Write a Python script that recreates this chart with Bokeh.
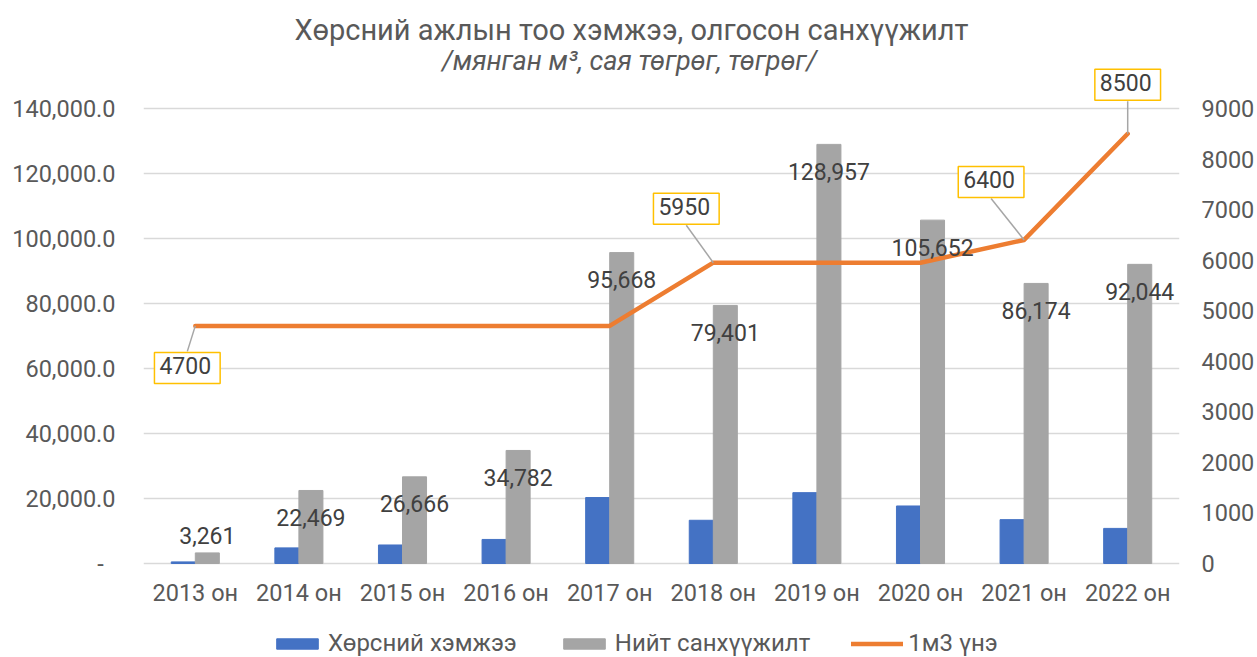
import numpy as np
from bokeh.plotting import figure
from bokeh.models import (Range1d, LinearAxis, FixedTicker, CustomJSTickFormatter, Label,
                          Legend, LegendItem, ColumnDataSource)
from bokeh.transform import dodge
from bokeh.embed import file_html
from bokeh.resources import INLINE

# ---------------- data ----------------
years = ["2013 он", "2014 он", "2015 он", "2016 он", "2017 он",
         "2018 он", "2019 он", "2020 он", "2021 он", "2022 он"]
volume = [500, 4800, 5700, 7400, 20300, 13300, 21800, 17700, 13500, 10800]
funding = [3261, 22469, 26666, 34782, 95668, 79401, 128957, 105652, 86174, 92044]
price = [4700, 4700, 4700, 4700, 4700, 5950, 5950, 5950, 6400, 8500]
left_ticks = [0, 20000, 40000, 60000, 80000, 100000, 120000, 140000]
right_ticks = [0, 1000, 2000, 3000, 4000, 5000, 6000, 7000, 8000, 9000]
series_names = ["Хөрсний хэмжээ", "Нийт санхүүжилт", "1м3 үнэ"]
title_text = "Хөрсний ажлын тоо хэмжээ, олгосон санхүүжилт"
subtitle_text = "/мянган м³, сая төгрөг, төгрөг/"

# ---------------- layout / style ----------------
W, H = 1257, 657              # canvas
LEFT, FW = 143, 1036          # plot area left edge / width (px)
Y_ZERO, Y_TOP = 563, 108      # pixel rows of value 0 and of top tick
BLUE, GRAY, ORANGE = "#4472C4", "#A5A5A5", "#ED7D31"
TXT, LBL, GRID = "#595959", "#404040", "#D9D9D9"
FONT = "Roboto"
BAR_W = 0.232
callouts = {0: (-8, -42), 5: (-27, 54), 8: (-33, 58), 9: (0, 49)}  # px, +up
BOX_HALF_H = 16.5
label_off = [-17 if v < 10000 else 27 for v in funding]            # px, +down

lmax, rmax = left_ticks[-1], right_ticks[-1]
span_px = Y_ZERO - Y_TOP
lupp, rupp = lmax / span_px, rmax / span_px
y_left = Range1d(-(H - Y_ZERO) * lupp, lmax + Y_TOP * lupp)
y_right = Range1d(-(H - Y_ZERO) * rupp, rmax + Y_TOP * rupp)

xs = np.arange(len(years)) + 0.5
src = ColumnDataSource(dict(
    x=xs, volume=volume, funding=funding, price=price, zero=[0] * len(years),
    flabel=[f"{v:,}" for v in funding], loff=label_off, years=years,
))

p = figure(frame_width=FW, frame_height=H,
           x_range=Range1d(0, len(years)), y_range=y_left,
           x_axis_location=None,
           output_backend="svg", toolbar_location=None,
           min_border_left=LEFT, min_border_right=W - LEFT - FW,
           min_border_top=0, min_border_bottom=0)
p.outline_line_color = None
p.background_fill_color = "white"
p.border_fill_color = "white"
p.extra_y_ranges = {"price": y_right}

p.yaxis.ticker = FixedTicker(ticks=left_ticks)
p.yaxis.formatter = CustomJSTickFormatter(code="""
if (tick == 0) { return "-\\u00a0\\u00a0"; }
return tick.toLocaleString("en-US", {minimumFractionDigits: 1, maximumFractionDigits: 1});
""")
p.yaxis.axis_line_color = None
p.yaxis.major_tick_line_color = None
p.yaxis.minor_tick_line_color = None
p.yaxis.major_tick_out = 0
p.yaxis.major_tick_in = 0
p.yaxis.minor_tick_out = 0
p.yaxis.major_label_standoff = 28
p.yaxis.major_label_text_font = FONT
p.yaxis.major_label_text_font_size = "23.5px"
p.yaxis.major_label_text_color = TXT

rax = LinearAxis(y_range_name="price", ticker=FixedTicker(ticks=right_ticks))
rax.axis_line_color = None
rax.major_tick_line_color = None
rax.minor_tick_line_color = None
rax.major_tick_out = 0
rax.major_tick_in = 0
rax.minor_tick_out = 0
rax.major_label_standoff = 22
rax.major_label_text_font = FONT
rax.major_label_text_font_size = "23.5px"
rax.major_label_text_color = TXT
p.add_layout(rax, "right")

p.xgrid.grid_line_color = None
p.ygrid.grid_line_color = GRID
p.ygrid.grid_line_width = 1.5
p.ygrid.ticker = FixedTicker(ticks=left_ticks)

# bars
r_vol = p.vbar(x=dodge("x", -BAR_W / 2), top="volume", width=BAR_W, source=src,
               fill_color=BLUE, line_color=BLUE)
r_fund = p.vbar(x=dodge("x", BAR_W / 2), top="funding", width=BAR_W, source=src,
                fill_color=GRAY, line_color=GRAY)

# line
r_price = p.line(x="x", y="price", source=src, y_range_name="price",
                 line_color=ORANGE, line_width=4.5, line_join="round", line_cap="round")

# data labels on grey bars
p.text(x=dodge("x", BAR_W / 2), y="funding", text="flabel", source=src,
       y_offset="loff", text_align="center", text_baseline="middle",
       text_font={"value": FONT}, text_font_size="23px", text_color=LBL)

# category labels (x axis)
p.text(x="x", y="zero", text="years", source=src, y_offset=29,
       text_align="center", text_baseline="middle",
       text_font={"value": FONT}, text_font_size="23.5px", text_color=TXT)

# callouts for price
px_per_x = FW / len(years)
for i, (dx, dy) in callouts.items():
    edge = dy - BOX_HALF_H if dy > 0 else dy + BOX_HALF_H
    p.segment(x0=[xs[i]], y0=[price[i]],
              x1=[xs[i] + dx / px_per_x], y1=[price[i] + edge * rupp],
              y_range_name="price", line_color="#A6A6A6", line_width=1.5)
    p.add_layout(Label(x=xs[i], y=price[i], y_range_name="price",
                       x_offset=dx, y_offset=dy, text=str(price[i]),
                       text_align="center", text_baseline="middle",
                       text_font=FONT, text_font_size="23px", text_color=LBL,
                       background_fill_color="white", border_line_color="#FFC000",
                       border_line_width=1.5, padding=(5, 9, 5, 9)))

# titles
p.add_layout(Label(x=len(years) / 2, y=y_left.end, x_offset=-30, y_offset=-29,
                   text=title_text, text_align="center", text_baseline="middle",
                   text_font=FONT, text_font_size="29px", text_color=TXT))
p.add_layout(Label(x=len(years) / 2, y=y_left.end, x_offset=-32, y_offset=-60,
                   text=subtitle_text, text_align="center", text_baseline="middle",
                   text_font=FONT, text_font_style="italic",
                   text_font_size="27px", text_color=TXT))

# legend
legend = Legend(items=[LegendItem(label=series_names[0], renderers=[r_vol]),
                       LegendItem(label=series_names[1], renderers=[r_fund]),
                       LegendItem(label=series_names[2], renderers=[r_price])],
                orientation="horizontal", location=(271 - LEFT, 0),
                border_line_color=None, background_fill_alpha=0,
                label_text_font=FONT, label_text_font_size="24px", label_text_color=TXT,
                glyph_width=52, glyph_height=13, spacing=41, label_standoff=5,
                padding=0, margin=0)
p.add_layout(legend, "center")

open("out.html", "w").write(file_html(p, INLINE))
